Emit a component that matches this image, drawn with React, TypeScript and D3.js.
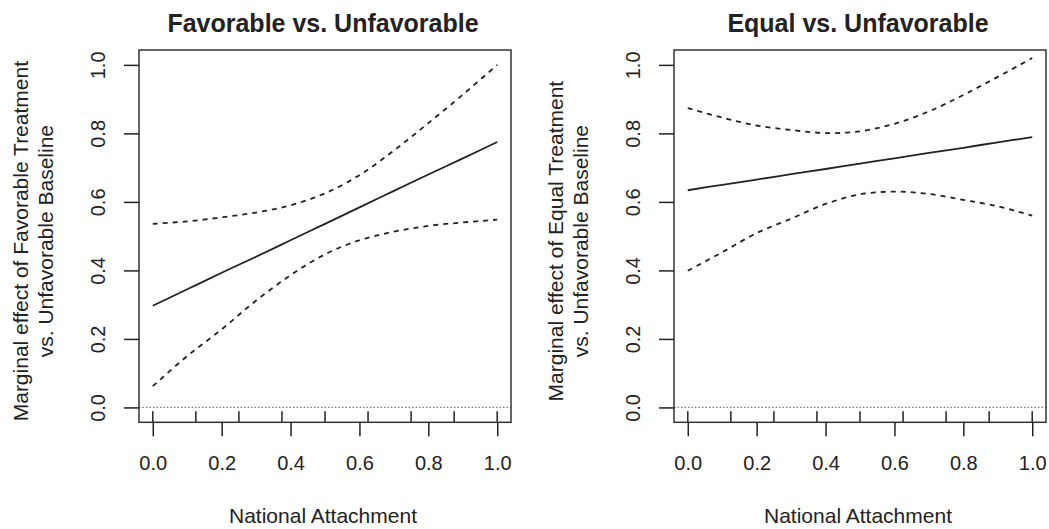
import React, { useEffect, useRef } from "react";
import * as d3 from "d3";

const NATIONAL_ATTACHMENT = [0, 0.1, 0.2, 0.3, 0.4, 0.5, 0.6, 0.7, 0.8, 0.9, 1.0];

// favorable vs. unfavorable
const FAV_EFFECT = [0.297, 0.345, 0.393, 0.44, 0.488, 0.536, 0.584, 0.632, 0.68, 0.727, 0.775];
const FAV_UPPER = [0.536, 0.543, 0.555, 0.569, 0.59, 0.625, 0.678, 0.75, 0.83, 0.913, 1.0];
const FAV_LOWER = [0.062, 0.15, 0.228, 0.312, 0.386, 0.447, 0.488, 0.513, 0.53, 0.54, 0.548];

// equal vs. unfavorable
const EQ_EFFECT = [0.634, 0.65, 0.665, 0.681, 0.696, 0.712, 0.727, 0.743, 0.758, 0.774, 0.789];
const EQ_UPPER = [0.874, 0.846, 0.823, 0.81, 0.801, 0.806, 0.828, 0.864, 0.912, 0.965, 1.02];
const EQ_LOWER = [0.399, 0.453, 0.509, 0.551, 0.594, 0.622, 0.63, 0.623, 0.606, 0.587, 0.56];

// rug of observed attachment values
const RUG_VALUES = [0, 0.125, 0.25, 0.375, 0.5, 0.625, 0.75, 0.875, 1.0];

const X_TICKS = [0, 0.2, 0.4, 0.6, 0.8, 1.0];
const Y_TICKS = [0, 0.2, 0.4, 0.6, 0.8, 1.0];

const WIDTH = 1049;
const HEIGHT = 529;
const TOP = 50;
const BOTTOM = 422.3;
const FONT = "'Liberation Sans', Arial, Helvetica, sans-serif";
const INK = "#222";

const panels = [
  {
    title: "Favorable vs. Unfavorable",
    yLab: ["Marginal effect of Favorable Treatment", "vs. Unfavorable Baseline"],
    effect: FAV_EFFECT,
    upper: FAV_UPPER,
    lower: FAV_LOWER,
    left: 139,
    right: 511,
  },
  {
    title: "Equal vs. Unfavorable",
    yLab: ["Marginal effect of Equal Treatment", "vs. Unfavorable Baseline"],
    effect: EQ_EFFECT,
    upper: EQ_UPPER,
    lower: EQ_LOWER,
    left: 674,
    right: 1046,
  },
];

export default function App() {
  const ref = useRef<SVGSVGElement>(null);

  useEffect(() => {
    const container = ref.current;
    if (!container) return;

    const svg = d3.select(container);
    svg.selectAll("*").remove();

    // R style 4% padding on both axes
    const yScale = d3.scaleLinear().domain([-0.0434, 1.0434]).range([BOTTOM, TOP]);

    panels.forEach((p) => {
      const xScale = d3.scaleLinear().domain([-0.04, 1.04]).range([p.left, p.right]);
      const g = svg.append("g");
      const midX = (p.left + p.right) / 2;

      // zero reference line
      g.append("line")
        .attr("x1", p.left)
        .attr("x2", p.right)
        .attr("y1", yScale(0))
        .attr("y2", yScale(0))
        .attr("stroke", "#777")
        .attr("stroke-width", 1.2)
        .attr("stroke-dasharray", "1.5,2");

      // rug
      g.selectAll(".rug")
        .data(RUG_VALUES)
        .enter()
        .append("line")
        .attr("x1", (d) => xScale(d))
        .attr("x2", (d) => xScale(d))
        .attr("y1", BOTTOM)
        .attr("y2", BOTTOM - 11)
        .attr("stroke", INK)
        .attr("stroke-width", 1.5);

      const line = d3
        .line<number>()
        .x((_, i) => xScale(NATIONAL_ATTACHMENT[i]))
        .y((d) => yScale(d))
        .curve(d3.curveCatmullRom);

      [p.upper, p.lower].forEach((series) => {
        g.append("path")
          .attr("d", line(series))
          .attr("fill", "none")
          .attr("stroke", INK)
          .attr("stroke-width", 1.8)
          .attr("stroke-dasharray", "5,5");
      });

      g.append("path")
        .attr("d", line(p.effect))
        .attr("fill", "none")
        .attr("stroke", INK)
        .attr("stroke-width", 1.8);

      // box
      g.append("rect")
        .attr("x", p.left)
        .attr("y", TOP)
        .attr("width", p.right - p.left)
        .attr("height", BOTTOM - TOP)
        .attr("fill", "none")
        .attr("stroke", "#333")
        .attr("stroke-width", 1.5);

      // axes
      const xAxis = d3
        .axisBottom(xScale)
        .tickValues(X_TICKS)
        .tickSize(14)
        .tickPadding(20)
        .tickFormat(d3.format(".1f"));

      const xg = g.append("g").attr("transform", `translate(0, ${BOTTOM})`).call(xAxis);
      xg.select(".domain").remove();
      xg.selectAll("line").attr("stroke", INK).attr("stroke-width", 1.5);
      xg.selectAll("text")
        .attr("fill", INK)
        .style("font-family", FONT)
        .style("font-size", "20px");

      const yAxis = d3.axisLeft(yScale).tickValues(Y_TICKS).tickSize(15).tickFormat(d3.format(".1f"));
      const yg = g.append("g").attr("transform", `translate(${p.left}, 0)`).call(yAxis);
      yg.select(".domain").remove();
      yg.selectAll("line").attr("stroke", INK).attr("stroke-width", 1.5);
      yg.selectAll("text")
        .attr("x", 0)
        .attr("y", 0)
        .attr("dy", null)
        .attr("text-anchor", "middle")
        .attr("transform", "translate(-34.5, 0) rotate(-90)")
        .attr("fill", INK)
        .style("font-family", FONT)
        .style("font-size", "20px");

      // title
      g.append("text")
        .attr("x", midX - 2)
        .attr("y", 31.5)
        .attr("text-anchor", "middle")
        .attr("fill", INK)
        .style("font-family", FONT)
        .style("font-size", "25px")
        .style("font-weight", "bold")
        .text(p.title);

      g.append("text")
        .attr("x", midX - 2)
        .attr("y", 523)
        .attr("text-anchor", "middle")
        .attr("fill", INK)
        .style("font-family", FONT)
        .style("font-size", "21px")
        .text("National Attachment");

      const midY = (TOP + BOTTOM) / 2 + 5;
      p.yLab.forEach((txt, i) => {
        g.append("text")
          .attr("transform", `translate(${p.left - 111 + i * 25}, ${midY}) rotate(-90)`)
          .attr("text-anchor", "middle")
          .attr("fill", INK)
          .style("font-family", FONT)
          .style("font-size", "21px")
          .text(txt);
      });
    });
  }, [ref]);

  return (
    <svg
      ref={ref}
      width={WIDTH}
      height={HEIGHT}
      style={{ position: "absolute", left: 0, top: 0, background: "#fff" }}
    />
  );
}
